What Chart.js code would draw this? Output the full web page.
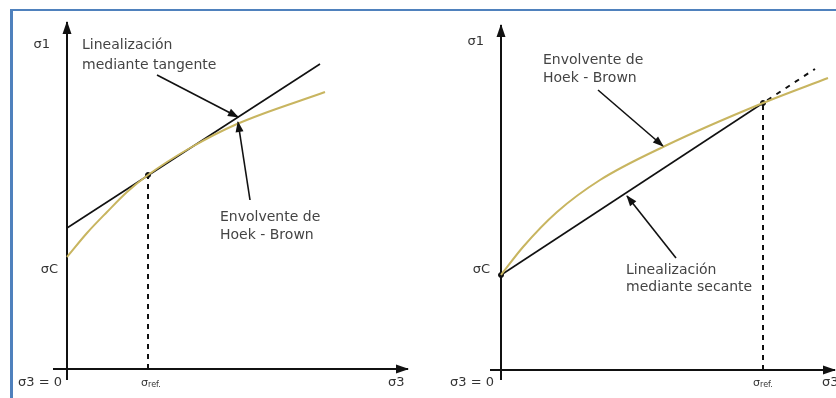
<!DOCTYPE html>
<html>
<head>
<meta charset="utf-8">
<script src="https://cdn.jsdelivr.net/npm/chart.js@4.4.0/dist/chart.umd.min.js"></script>
<style>
  html, body { margin: 0; padding: 0; background: #fff; }
  #frame { position: relative; width: 836px; height: 398px; overflow: hidden; }
  #border { position: absolute; left: 10px; top: 9px; width: 900px; height: 500px;
            border-left: 3px solid #4f81bd; border-top: 2px solid #4f81bd; }
  canvas { position: absolute; top: 0; }
  #left { left: 0; }
  #right { left: 418px; }
</style>
</head>
<body>
<div id="frame">
  <div id="border"></div>
  <canvas id="left" width="418" height="398"></canvas>
  <canvas id="right" width="418" height="398"></canvas>
</div>
<script>
// ---- left panel: linealización mediante tangente ----
const leftAxisX = [-0.14, 3.41];
const leftAxisY = [-0.11, 3.47];
const leftSigmaRef = 0.81;
const leftRefY = 1.94;
const tangentX = [0, 2.53];
const tangentY = [1.41, 3.05];
const leftHoekX = [0, 0.20, 0.40, 0.60, 0.81, 1.23, 1.70, 2.58];
const leftHoekY = [1.12, 1.36, 1.57, 1.77, 1.94, 2.21, 2.45, 2.77];
const tangentPointerX = [0.90, 1.71];
const tangentPointerY = [2.94, 2.52];
const leftHoekPointerX = [1.83, 1.71];
const leftHoekPointerY = [1.69, 2.47];

// ---- right panel: linealización mediante secante ----
const rightAxisX = [-0.11, 3.34];
const rightAxisY = [-0.10, 3.45];
const rightSigmaRef = 2.62;
const sigmaC = 0.95;
const secantX = [0, 2.62];
const secantY = [0.95, 2.67];
const secantExtX = [2.62, 3.14];
const secantExtY = [2.67, 3.01];
const rightHoekX = [0, 0.22, 0.56, 0.99, 1.64, 2.62, 3.27];
const rightHoekY = [0.95, 1.23, 1.58, 1.90, 2.24, 2.67, 2.92];
const rightHoekPointerX = [0.97, 1.62];
const rightHoekPointerY = [2.80, 2.24];
const secantPointerX = [1.75, 1.26];
const secantPointerY = [1.12, 1.74];

// texts
const tangentText = ['Linealización', 'mediante tangente'];
const secantText = ['Linealización', 'mediante secante'];
const hoekText = ['Envolvente de', 'Hoek - Brown'];

const INK = '#111';
const CURVE = '#c8b560';
const pts = (xs, ys) => xs.map((x, i) => ({ x, y: ys[i] }));

const line = (data, extra) => Object.assign({
  data, showLine: true, borderColor: INK, backgroundColor: INK,
  borderWidth: 1.6, pointRadius: 0, fill: false
}, extra);

const arrowPlugin = {
  id: 'arrowHeads',
  afterDatasetsDraw(chart) {
    const ctx = chart.ctx;
    chart.data.datasets.forEach((ds, i) => {
      if (!ds.arrowHead) return;
      const p = chart.getDatasetMeta(i).data;
      const a = p[p.length - 2], b = p[p.length - 1];
      const ang = Math.atan2(b.y - a.y, b.x - a.x);
      const [len, half] = ds.arrowHead;
      ctx.save();
      ctx.translate(b.x, b.y);
      ctx.rotate(ang);
      ctx.beginPath();
      ctx.moveTo(1, 0);
      ctx.lineTo(-len, -half);
      ctx.lineTo(-len, half);
      ctx.closePath();
      ctx.fillStyle = ds.borderColor;
      ctx.fill();
      ctx.restore();
    });
  }
};

function textPlugin(items) {
  return {
    id: 'diagramText',
    afterDraw(chart) {
      const { ctx, scales: { x, y } } = chart;
      items.forEach(it => {
        const px = x.getPixelForValue(it.x), py = y.getPixelForValue(it.y);
        ctx.save();
        ctx.fillStyle = it.color || '#444';
        ctx.textBaseline = 'middle';
        if (it.sub) {
          ctx.font = it.font;
          const w1 = ctx.measureText(it.text).width;
          ctx.font = it.subFont;
          const w2 = ctx.measureText(it.sub).width;
          const x0 = px - (w1 + w2) / 2;
          ctx.textAlign = 'left';
          ctx.font = it.font;
          ctx.fillText(it.text, x0, py);
          ctx.font = it.subFont;
          ctx.fillText(it.sub, x0 + w1, py + 2);
        } else {
          ctx.font = it.font;
          ctx.textAlign = it.align || 'left';
          ctx.fillText(it.text, px, py);
        }
        ctx.restore();
      });
    }
  };
}

const NOTE = '14px "DejaVu Sans"';
const SYM = '13px "DejaVu Sans"';

function makePanel(id, xRange, yRange, datasets, items) {
  return new Chart(document.getElementById(id), {
    type: 'scatter',
    data: { datasets },
    options: {
      responsive: false,
      animation: false,
      layout: { padding: 0, autoPadding: false },
      elements: { line: { tension: 0 } },
      scales: {
        x: { type: 'linear', display: false, min: xRange[0], max: xRange[1] },
        y: { type: 'linear', display: false, min: yRange[0], max: yRange[1] }
      },
      plugins: { legend: { display: false }, tooltip: { enabled: false } }
    },
    plugins: [arrowPlugin, textPlugin(items)]
  });
}

makePanel('left', [-0.67, 3.51], [-0.29, 3.69], [
  line(pts(leftHoekX, leftHoekY), { borderColor: CURVE, borderWidth: 2, cubicInterpolationMode: 'monotone' }),
  line(pts(tangentX, tangentY)),
  line(pts([leftSigmaRef, leftSigmaRef], [0, leftRefY]), { borderWidth: 2, borderDash: [5, 5] }),
  line(pts(leftAxisX, [0, 0]), { borderWidth: 2, arrowHead: [12, 4.5] }),
  line(pts([0, 0], leftAxisY), { borderWidth: 2, arrowHead: [12, 4.5] }),
  line(pts(tangentPointerX, tangentPointerY), { arrowHead: [10, 4] }),
  line(pts(leftHoekPointerX, leftHoekPointerY), { arrowHead: [10, 4] }),
  { data: pts([leftSigmaRef], [leftRefY]), pointRadius: 2.5, backgroundColor: INK, borderColor: INK }
], [
  { text: tangentText[0], x: 0.15, y: 3.24, font: NOTE },
  { text: tangentText[1], x: 0.15, y: 3.04, font: NOTE },
  { text: hoekText[0], x: 1.53, y: 1.52, font: NOTE },
  { text: hoekText[1], x: 1.53, y: 1.34, font: NOTE },
  { text: 'σ1', x: -0.17, y: 3.24, font: SYM, align: 'right', color: '#333' },
  { text: 'σC', x: -0.09, y: 0.99, font: SYM, align: 'right', color: '#333' },
  { text: 'σ3 = 0', x: -0.05, y: -0.14, font: SYM, align: 'right', color: '#333' },
  { text: 'σ', sub: 'ref.', x: leftSigmaRef + 0.03, y: -0.14, font: '11px "DejaVu Sans"', subFont: '8px "DejaVu Sans"', color: '#333' },
  { text: 'σ3', x: 3.21, y: -0.14, font: SYM, color: '#333' }
]);

makePanel('right', [-0.83, 3.35], [-0.28, 3.70], [
  line(pts(rightHoekX, rightHoekY), { borderColor: CURVE, borderWidth: 2, cubicInterpolationMode: 'monotone' }),
  line(pts(secantX, secantY)),
  line(pts(secantExtX, secantExtY), { borderWidth: 2, borderDash: [5, 6], borderDashOffset: 6 }),
  line(pts([rightSigmaRef, rightSigmaRef], [0, secantY[1]]), { borderWidth: 2, borderDash: [5, 5] }),
  line(pts(rightAxisX, [0, 0]), { borderWidth: 2, arrowHead: [12, 4.5] }),
  line(pts([0, 0], rightAxisY), { borderWidth: 2, arrowHead: [12, 4.5] }),
  line(pts(rightHoekPointerX, rightHoekPointerY), { arrowHead: [10, 4] }),
  line(pts(secantPointerX, secantPointerY), { arrowHead: [10, 4] }),
  { data: pts([0, rightSigmaRef], [sigmaC, secantY[1]]), pointRadius: 2.5, backgroundColor: INK, borderColor: INK }
], [
  { text: hoekText[0], x: 0.42, y: 3.10, font: NOTE },
  { text: hoekText[1], x: 0.42, y: 2.92, font: NOTE },
  { text: secantText[0], x: 1.25, y: 1.00, font: NOTE },
  { text: secantText[1], x: 1.25, y: 0.83, font: NOTE },
  { text: 'σ1', x: -0.17, y: 3.28, font: SYM, align: 'right', color: '#333' },
  { text: 'σC', x: -0.11, y: 1.00, font: SYM, align: 'right', color: '#333' },
  { text: 'σ3 = 0', x: -0.07, y: -0.13, font: SYM, align: 'right', color: '#333' },
  { text: 'σ', sub: 'ref.', x: rightSigmaRef, y: -0.13, font: '11px "DejaVu Sans"', subFont: '8px "DejaVu Sans"', color: '#333' },
  { text: 'σ3', x: 3.21, y: -0.13, font: SYM, color: '#333' }
]);
</script>
</body>
</html>
